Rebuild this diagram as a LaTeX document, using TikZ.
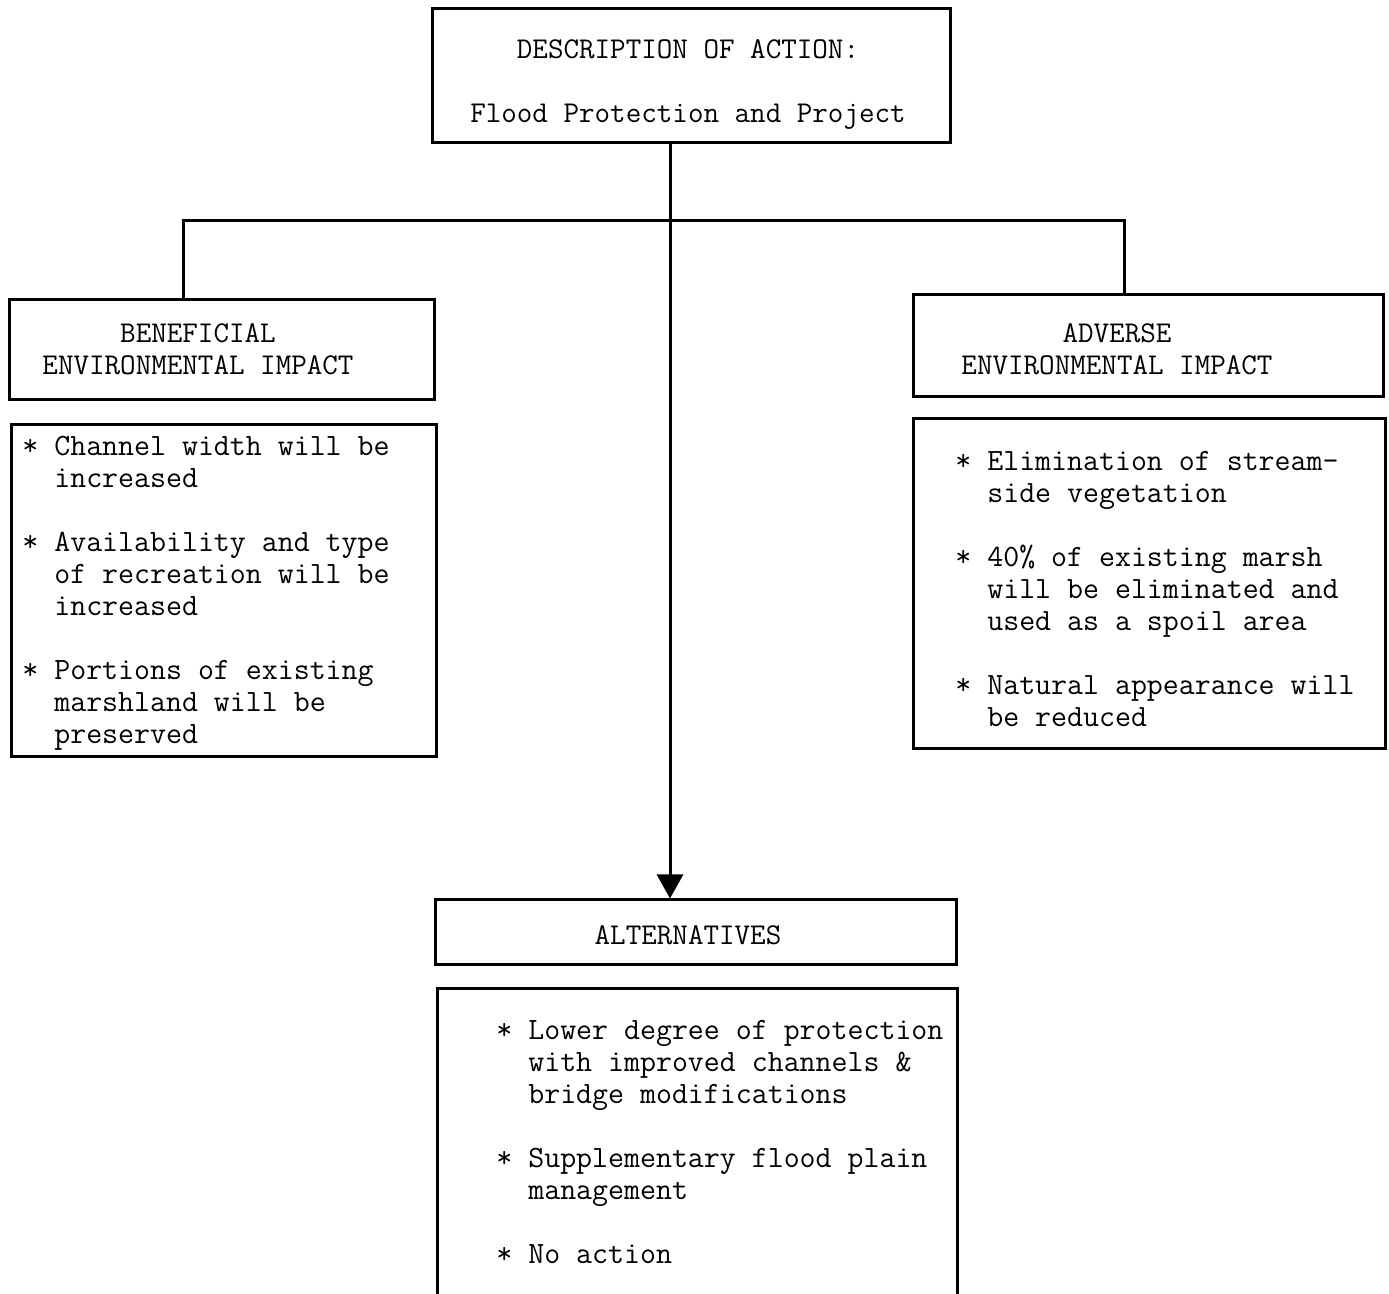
\documentclass[tikz,border=0pt]{standalone}
\usetikzlibrary{arrows.meta}
\newcommand\ind{\hphantom{*\ }}
\newcommand\twfont{\ttfamily\fontsize{15.1}{16}\selectfont}
\newcommand\bodyfont{\ttfamily\fontsize{15.5}{16}\selectfont}
\begin{document}
\begin{tikzpicture}[x=0.5pt,y=-0.5pt,
  boxsty/.style={draw, line width=1.5pt, inner sep=0pt, rectangle},
  txtsty/.style={inner sep=0pt, align=left, anchor=north west, font=\bodyfont},
  headsty/.style={inner sep=0pt, align=center, anchor=north, font=\twfont},
  linksty/.style={line width=1.5pt}]
\useasboundingbox (0,0) rectangle (1389,1294);
\fill[white] (0,0) rectangle (1389,1294);

% boxes
\node[boxsty, minimum width=259pt, minimum height=67pt] (top) at (691,76) {};
\node[boxsty, minimum width=212.5pt, minimum height=50pt] (ben) at (221.5,350) {};
\node[boxsty, minimum width=212.5pt, minimum height=166pt] (benl) at (223.5,591) {};
\node[boxsty, minimum width=235pt, minimum height=51pt] (adv) at (1148,346) {};
\node[boxsty, minimum width=236pt, minimum height=165pt] (advl) at (1149,584) {};
\node[boxsty, minimum width=260.5pt, minimum height=32.5pt] (alt) at (695.5,932.5) {};
\node[boxsty, minimum width=260pt, minimum height=166pt] (altl) at (697,1154) {};

% texts
\node[headsty] (toptxt) at (688,35.6) {\strut DESCRIPTION OF ACTION:\\[16pt] Flood Protection and Project};
\node[headsty] (bentxt) at (198,319.6) {\strut BENEFICIAL\\ ENVIRONMENTAL IMPACT};
\node[headsty] (advtxt) at (1117,319.6) {\strut ADVERSE\\ ENVIRONMENTAL IMPACT};
\node[headsty] (alttxt) at (688,921.6) {\strut ALTERNATIVES};

\node[txtsty] (benltxt) at (22,432.6) {\strut * Channel width will be\\
\ind increased\\[16pt]
* Availability and type\\
\ind of recreation will be\\
\ind increased\\[16pt]
* Portions of existing\\
\ind marshland will be\\
\ind preserved};

\node[txtsty] (advltxt) at (955,447.6) {\strut * Elimination of stream-\\
\ind side vegetation\\[16pt]
* 40\% of existing marsh\\
\ind will be eliminated and\\
\ind used as a spoil area\\[16pt]
* Natural appearance will\\
\ind be reduced};

\node[txtsty] (altltxt) at (496,1016.6) {\strut * Lower degree of protection\\
\ind with improved channels \&\\
\ind bridge modifications\\[16pt]
* Supplementary flood plain\\
\ind management\\[16pt]
* No action};

% connectors
\coordinate (spine) at (670,0);
\coordinate (lx) at (183,221);
\coordinate (rx) at (1124,221);
\draw[linksty, -{Triangle[length=12pt,width=13pt]}] (top.south -| spine) -- (alt.north -| spine);
\draw[linksty] (ben.north -| lx) -- (lx) -- (rx) -- (adv.north -| rx);
\end{tikzpicture}
\end{document}
